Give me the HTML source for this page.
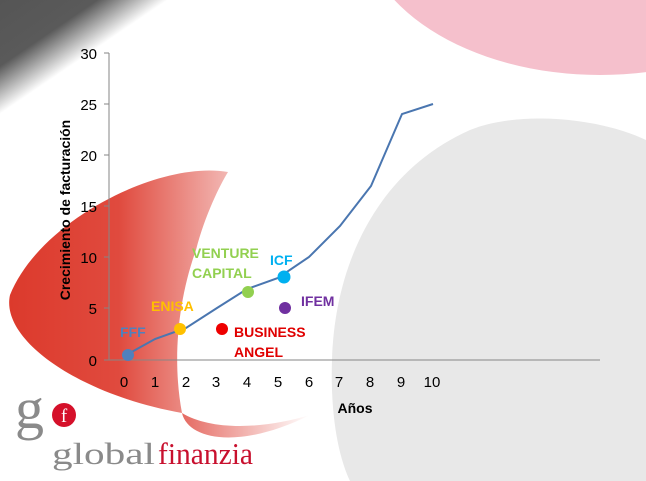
<!DOCTYPE html>
<html><head><meta charset="utf-8"><style>
html,body{margin:0;padding:0;background:#fff;}
svg{display:block;font-family:"Liberation Sans",Calibri,sans-serif;}
</style></head><body>
<svg width="646" height="481" viewBox="0 0 646 481" xmlns="http://www.w3.org/2000/svg">
<defs>
<linearGradient id="dk" gradientUnits="userSpaceOnUse" x1="0" y1="0" x2="53" y2="78">
<stop offset="0" stop-color="#555"/><stop offset="0.58" stop-color="#5a5a5a"/><stop offset="1" stop-color="#fff"/>
</linearGradient>
<linearGradient id="rd" x1="0" y1="0" x2="1" y2="0">
<stop offset="0" stop-color="#dc3a2c"/><stop offset="0.5" stop-color="#e04a3e"/><stop offset="1" stop-color="#f2b7b3"/>
</linearGradient>
<linearGradient id="tl" x1="0" y1="0" x2="1" y2="0">
<stop offset="0" stop-color="#e56a62"/><stop offset="1" stop-color="#fff"/>
</linearGradient>
</defs>
<rect x="0" y="0" width="300" height="300" fill="url(#dk)"/>
<ellipse cx="600" cy="-80" rx="240" ry="155" fill="#f5c0cc"/>
<path d="M646,140 C600,118 520,110 470,130 C380,170 335,260 332,360 C330,420 340,460 350,481 L646,481 Z" fill="#e8e8e8"/>
<path d="M228,172 C160,160 40,220 10,295 C0,340 80,395 182,413 C172,360 178,300 196,250 C205,215 220,185 228,172 Z" fill="url(#rd)"/>
<path d="M182,413 C188,440 240,450 310,415 C260,430 210,430 182,413 Z" fill="url(#tl)"/>
<g stroke="#868686" stroke-width="1" fill="none">
<line x1="109" y1="53" x2="109" y2="360"/>
<line x1="109" y1="360" x2="600" y2="360"/>
<line x1="104" y1="53" x2="109" y2="53"/><line x1="104" y1="104" x2="109" y2="104"/>
<line x1="104" y1="155" x2="109" y2="155"/><line x1="104" y1="206" x2="109" y2="206"/>
<line x1="104" y1="257" x2="109" y2="257"/><line x1="104" y1="308" x2="109" y2="308"/>
<line x1="104" y1="360" x2="109" y2="360"/>
</g>
<g font-size="15" fill="#000" text-anchor="end">
<text x="97" y="59">30</text><text x="97" y="110">25</text><text x="97" y="161">20</text>
<text x="97" y="212">15</text><text x="97" y="263">10</text><text x="97" y="314">5</text><text x="97" y="366">0</text>
</g>
<g font-size="15" fill="#000" text-anchor="middle">
<text x="124" y="387">0</text><text x="155" y="387">1</text><text x="186" y="387">2</text><text x="216" y="387">3</text>
<text x="247" y="387">4</text><text x="278" y="387">5</text><text x="309" y="387">6</text><text x="339" y="387">7</text>
<text x="370" y="387">8</text><text x="401" y="387">9</text><text x="432" y="387">10</text>
</g>
<text x="355" y="413" font-size="14" font-weight="bold" text-anchor="middle">Años</text>
<text transform="translate(70,210) rotate(-90)" font-size="14" font-weight="bold" text-anchor="middle">Crecimiento de facturación</text>
<polyline points="128,354 155,339 186,328 217,308 247,289 278,278 309,257 340,226 371,186 402,114 433,104" fill="none" stroke="#4a76b0" stroke-width="2"/>
<circle cx="128" cy="355" r="6" fill="#4f81bd"/>
<circle cx="180" cy="329" r="6" fill="#ffc000"/>
<circle cx="222" cy="329" r="6" fill="#ee0000"/>
<circle cx="248" cy="292" r="6" fill="#92d050"/>
<circle cx="284" cy="277" r="6.5" fill="#00b0f0"/>
<circle cx="285" cy="308" r="6" fill="#7030a0"/>
<g font-size="14" font-weight="bold">
<text x="120" y="337" fill="#4f81bd">FFF</text>
<text x="151" y="311" fill="#ffc000">ENISA</text>
<text x="192" y="258" fill="#92d050">VENTURE</text>
<text x="192" y="278" fill="#92d050">CAPITAL</text>
<text x="270" y="265" fill="#00b0f0">ICF</text>
<text x="301" y="306" fill="#7030a0">IFEM</text>
<text x="234" y="337" fill="#e00000">BUSINESS</text>
<text x="234" y="357" fill="#e00000">ANGEL</text>
</g>
<text x="15" y="428" font-family="Liberation Serif,serif" font-size="58" fill="#8a8a8a">g</text>
<circle cx="64" cy="415" r="12" fill="#d5102a"/>
<text x="64" y="422" font-family="Liberation Serif,serif" font-size="19" fill="#fff" text-anchor="middle">f</text>
<text x="52" y="464" font-family="Liberation Serif,serif" font-size="31" fill="#8a8a8a" textLength="103" lengthAdjust="spacingAndGlyphs">global</text>
<text x="158" y="464" font-family="Liberation Serif,serif" font-size="31" fill="#c8102e" textLength="95" lengthAdjust="spacingAndGlyphs">finanzia</text>
</svg>
</body></html>
